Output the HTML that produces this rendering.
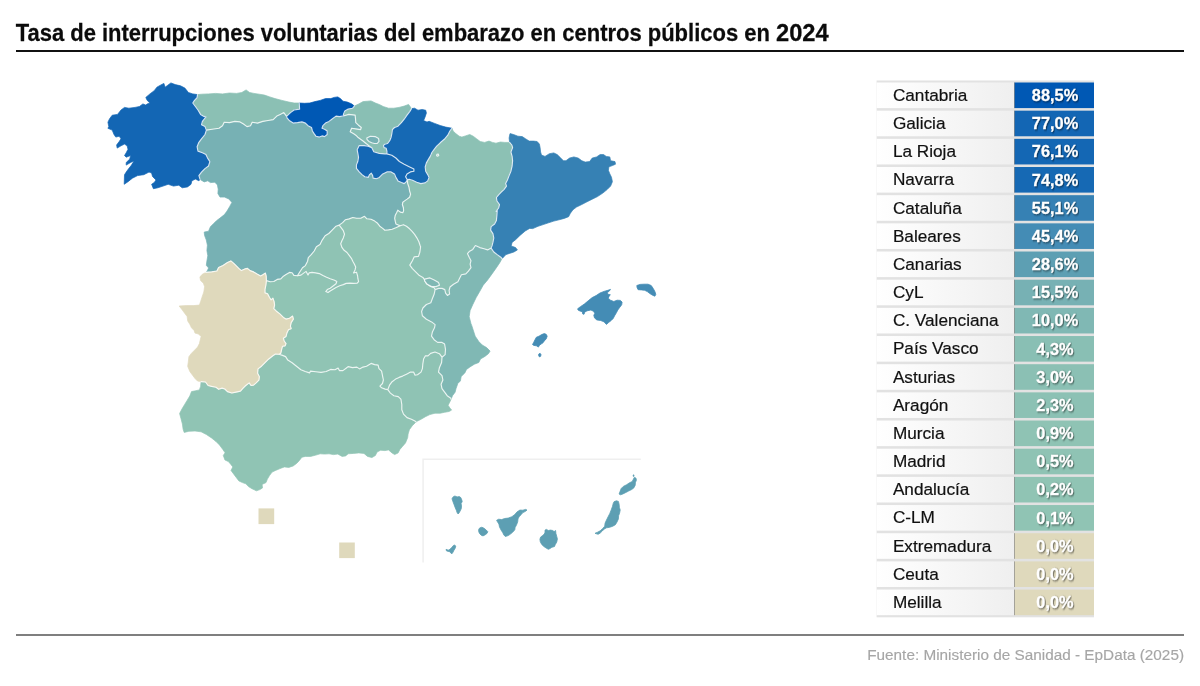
<!DOCTYPE html>
<html lang="es">
<head>
<meta charset="utf-8">
<title>Tasa de interrupciones voluntarias del embarazo en centros públicos en 2024</title>
<style>
html,body{margin:0;padding:0;background:#fff;}
body{width:1200px;height:686px;position:relative;overflow:hidden;font-family:"Liberation Sans",Arial,sans-serif;color:#111;}
#map{position:absolute;left:0;top:0;width:1200px;height:686px;}
.row .l{font-size:17.2px;fill:#111;stroke:#111;stroke-width:.2px;}
.row .v{font-size:17.3px;font-weight:bold;fill:#fff;stroke:#fff;stroke-width:.3px;text-anchor:middle;filter:drop-shadow(1px 1px .8px rgba(0,0,0,.5));}
</style>
</head>
<body>
<svg id="map" viewBox="0 0 1200 686" width="1200" height="686">
<rect id="toprule" x="16" y="50" width="1168" height="2" fill="#111"/>
<text id="title" transform="translate(15.7,40.7) scale(0.9048,1)" font-family="'Liberation Sans',Arial,sans-serif" font-size="24.3" font-weight="bold" fill="#0b0b0b" stroke="#0b0b0b" stroke-width="0.25">Tasa de interrupciones voluntarias del embarazo en centros públicos en <tspan textLength="58.2" lengthAdjust="spacingAndGlyphs">2024</tspan></text>
<rect id="botrule" x="16" y="634" width="1168" height="2" fill="#7f7f7f"/>
<text id="source" transform="translate(1184,659.8) scale(1.022,1)" text-anchor="end" font-family="'Liberation Sans',Arial,sans-serif" font-size="15" fill="#a6a6a6" stroke="#a6a6a6" stroke-width="0.15">Fuente: Ministerio de Sanidad - EpData (2025)</text>
<g id="regions" stroke-width="0.7" stroke-linejoin="round">
<path id="r-cyl" fill="#77b1b4" stroke="#77b1b4" d="M200.1,179.4 198.9,175.6 201.5,172.1 205.0,168.6 208.5,166.0 209.9,161.6 207.6,158.1 205.9,154.6 202.4,152.8 198.0,151.1 197.1,146.7 198.9,142.3 201.5,138.8 205.0,134.5 206.4,130.1 212.0,129.2 219.0,128.3 222.5,125.7 224.2,122.2 229.5,122.6 234.8,121.4 240.0,121.9 243.5,124.0 247.0,126.6 250.5,125.7 252.2,122.2 257.5,123.1 262.8,121.4 268.0,120.5 273.2,119.6 276.8,116.1 280.2,114.4 283.8,112.6 285.5,114.9 286.6,116.3 287.0,117.9 289.6,120.8 293.1,123.1 297.5,122.6 301.9,121.9 305.4,123.1 308.0,125.7 311.5,127.5 312.4,131.0 314.1,133.6 315.9,136.2 319.4,137.1 322.0,135.9 324.6,136.6 327.2,134.5 327.2,131.0 324.6,129.2 322.0,128.3 322.9,125.7 325.5,123.1 329.0,121.4 332.5,118.7 336.0,116.1 339.5,116.6 344.0,115.8 348.8,114.4 355.1,115.1 355.5,118.5 355.8,122.7 358.5,125.2 361.3,127.5 360.6,129.6 355.8,128.9 351.6,128.2 350.2,131.7 353.7,133.8 355.8,135.2 357.8,137.2 362.7,140.7 366.1,143.5 368.9,145.6 371.7,147.6 368.2,146.2 364.1,145.6 359.2,145.6 357.1,149.7 357.8,153.2 358.5,157.3 357.8,161.5 356.4,164.9 356.4,168.4 359.2,171.9 362.0,174.6 364.8,176.7 368.2,177.4 369.6,174.6 371.3,173.2 372.6,175.3 373.1,178.1 376.5,178.8 379.3,177.4 382.8,173.9 386.9,171.9 391.1,171.9 394.5,173.9 395.9,177.4 398.0,180.9 401.4,182.5 404.2,183.6 406.3,181.6 407.4,179.9 407.7,183.6 409.0,187.3 409.6,191.0 410.6,194.1 409.6,197.2 407.1,199.1 404.6,200.9 402.8,202.2 402.4,204.7 403.4,207.8 403.6,210.8 402.8,212.7 400.3,212.1 397.8,210.2 396.6,212.7 395.3,215.2 394.7,218.3 395.3,221.4 395.9,223.9 398.4,225.1 400.3,225.7 395.8,227.7 392.2,229.2 388.5,229.9 384.9,230.3 382.7,228.4 379.8,226.2 377.6,223.3 374.7,221.1 371.0,219.2 366.7,218.7 364.5,216.3 360.8,218.2 356.5,218.2 352.8,217.5 349.2,218.9 345.5,219.7 342.6,222.6 339.2,225.1 336.0,226.2 332.4,229.9 328.8,233.5 325.1,235.7 322.2,240.1 320.0,244.5 316.4,246.7 314.2,251.0 311.2,254.7 308.3,257.6 307.6,261.2 305.4,265.6 302.5,267.8 299.6,272.2 297.4,275.8 293.9,275.4 292.1,272.7 289.5,272.4 286.0,274.5 283.4,276.2 280.8,278.9 277.2,279.4 273.8,281.5 270.2,281.8 266.4,280.6 266.2,276.2 265.4,273.1 263.2,274.5 260.6,275.9 257.1,274.1 253.6,271.9 250.1,270.6 247.5,268.4 244.9,268.9 241.4,270.6 238.8,268.4 236.1,265.7 233.5,263.1 230.9,260.9 227.4,262.6 223.0,265.4 218.6,267.5 216.9,271.0 211.6,271.9 205.8,272.4 206.9,271.5 208.6,268.0 206.3,265.3 206.9,261.0 207.8,255.7 206.9,250.5 207.4,245.2 206.3,240.0 204.6,235.6 204.2,232.1 208.6,231.2 210.4,226.8 213.9,223.3 216.5,220.7 220.0,218.1 224.4,214.6 227.0,211.1 229.6,206.7 231.9,202.4 228.8,198.9 224.4,197.1 220.0,197.1 217.9,193.6 218.2,189.2 217.4,184.9 214.8,182.2 210.4,182.6 207.8,180.8 204.2,181.9Z"/>
<path id="r-clm" fill="#90c4b4" stroke="#90c4b4" d="M266.4,280.6 270.2,281.8 273.8,281.5 277.2,279.4 280.8,278.9 283.4,276.2 286.0,274.5 289.5,272.4 292.1,272.7 293.9,275.4 297.4,275.8 301.0,275.1 304.0,272.9 306.1,271.4 308.0,275.1 309.1,272.9 312.0,272.4 315.6,272.9 319.3,273.6 322.9,275.5 326.6,277.3 330.2,278.7 334.6,280.2 336.8,281.6 336.0,283.8 333.1,286.0 330.2,288.2 327.3,289.6 325.8,291.6 328.0,292.6 330.2,291.1 333.1,289.2 336.0,287.5 339.7,285.7 343.3,284.6 346.2,283.4 349.9,283.1 353.5,283.4 357.2,283.1 358.6,281.6 357.9,278.7 357.6,275.8 356.5,272.2 353.5,272.9 355.0,270.0 355.7,267.1 354.3,264.1 352.8,261.2 351.4,258.3 349.2,255.4 347.0,252.5 344.1,250.3 341.9,247.4 340.7,243.7 341.9,240.8 343.3,237.9 344.5,234.3 343.3,230.6 341.1,227.7 339.2,225.1 342.6,222.6 345.5,219.7 349.2,218.9 352.8,217.5 356.5,218.2 360.8,218.2 364.5,216.3 366.7,218.7 371.0,219.2 374.7,221.1 377.6,223.3 379.8,226.2 382.7,228.4 384.9,230.3 388.5,229.9 392.2,229.2 395.8,227.7 400.3,225.7 403.4,224.7 406.5,226.3 409.6,228.8 412.1,231.3 414.6,234.4 417.0,238.1 418.9,241.8 420.1,245.5 420.6,246.7 419.9,252.0 418.5,256.4 414.1,256.9 412.4,260.7 409.8,265.1 412.4,268.6 415.9,272.1 419.4,275.6 422.9,277.4 424.6,280.0 426.4,283.5 429.9,286.1 434.2,287.8 435.1,289.6 434.2,294.0 432.5,298.3 430.8,302.7 426.4,304.5 422.9,308.0 421.6,311.5 422.4,315.8 426.4,319.3 431.6,321.9 435.1,324.6 434.6,327.5 432.4,331.9 431.5,336.2 434.1,339.7 437.6,342.4 442.0,342.4 444.6,344.1 445.5,349.4 445.1,354.6 442.0,357.2 439.4,353.7 435.0,352.0 430.6,353.4 428.0,355.8 425.4,355.8 423.6,359.0 422.8,364.2 422.4,368.6 421.0,372.1 417.5,374.7 414.9,375.1 413.6,372.1 410.5,372.1 407.0,373.9 402.6,376.1 399.1,377.4 395.6,379.1 392.1,381.7 389.5,385.2 387.8,389.6 385.1,389.1 381.6,387.8 379.9,386.1 382.5,383.5 383.4,380.0 382.5,375.6 381.6,371.2 379.0,368.6 378.1,365.1 374.6,364.6 371.1,363.4 366.5,366.2 363.0,367.1 359.5,368.9 356.9,367.1 352.5,367.6 348.1,366.6 346.4,368.0 342.9,370.6 339.4,370.6 338.1,368.0 335.0,369.7 330.6,369.4 326.2,371.5 321.0,372.4 315.8,371.8 310.5,371.1 309.6,372.9 305.2,371.5 300.9,369.7 296.5,366.2 292.1,362.7 287.8,360.1 285.6,356.6 282.5,355.4 279.0,354.3 280.8,353.2 281.6,349.7 282.5,346.2 285.1,345.9 286.0,343.6 284.2,341.0 283.4,338.3 286.0,336.6 286.9,333.1 288.6,329.6 291.2,328.7 290.4,326.1 291.2,322.6 293.4,319.1 292.6,316.1 289.5,318.2 286.0,319.1 283.4,317.4 279.9,313.9 276.4,311.2 273.8,308.6 274.6,305.1 274.1,301.6 272.9,298.1 271.1,299.9 269.4,297.2 267.6,293.7 265.0,292.9 265.0,289.4 265.9,285.0Z"/>
<path id="r-andalucia" fill="#90c4b4" stroke="#90c4b4" d="M201.1,381.6 205.5,382.0 208.1,385.5 211.6,386.4 216.0,387.2 218.6,389.3 222.1,388.1 224.8,389.0 227.4,391.6 231.8,393.0 236.1,392.1 240.5,391.1 243.1,388.1 245.8,385.5 249.2,382.9 251.0,385.5 253.6,385.1 256.2,382.9 258.9,380.2 259.4,376.7 257.6,373.2 258.0,368.9 261.5,366.2 265.0,362.7 268.5,359.2 272.9,355.7 275.5,354.0 279.0,354.3 282.5,355.4 285.6,356.6 287.8,360.1 292.1,362.7 296.5,366.2 300.9,369.7 305.2,371.5 309.6,372.9 310.5,371.1 315.8,371.8 321.0,372.4 326.2,371.5 330.6,369.4 335.0,369.7 338.1,368.0 339.4,370.6 342.9,370.6 346.4,368.0 348.1,366.6 352.5,367.6 356.9,367.1 359.5,368.9 363.0,367.1 366.5,366.2 371.1,363.4 374.6,364.6 378.1,365.1 379.0,368.6 381.6,371.2 382.5,375.6 383.4,380.0 382.5,383.5 379.9,386.1 381.6,387.8 385.1,389.1 387.8,389.6 390.4,393.1 393.9,395.7 398.2,396.6 400.9,399.2 401.8,404.5 401.8,409.7 403.5,414.1 407.0,417.6 411.4,419.3 414.9,421.1 416.1,421.9 412.5,425.4 409.4,429.7 408.1,434.1 407.7,437.6 405.5,442.9 402.5,446.4 399.9,449.4 398.1,452.9 394.6,454.6 392.0,452.9 388.5,449.9 385.0,450.6 380.6,450.2 377.1,452.0 375.4,455.5 371.9,457.6 367.5,456.4 364.0,453.4 358.8,452.9 353.5,453.4 348.2,453.8 345.6,455.9 342.1,456.4 337.8,454.1 333.4,454.6 329.0,453.8 324.6,454.1 320.2,453.8 315.9,455.1 310.6,456.4 305.4,456.4 301.9,457.2 299.2,460.7 296.6,463.4 293.1,466.0 288.8,467.4 284.4,466.9 280.0,468.6 275.6,470.4 272.1,472.1 269.5,475.6 267.4,479.1 266.0,482.6 262.1,484.4 262.5,487.9 259.9,489.6 256.4,490.8 252.0,488.7 248.5,486.6 245.9,483.8 242.4,482.6 238.9,480.9 236.2,477.4 233.6,473.9 231.0,470.4 232.8,466.9 230.7,464.2 228.4,461.6 224.9,459.9 223.3,455.4 225.1,452.8 222.7,449.3 219.5,445.0 216.0,441.5 211.6,438.0 206.4,434.5 201.1,431.8 195.0,431.0 188.9,431.3 184.2,432.4 183.1,429.2 182.4,424.0 181.0,418.7 179.6,413.5 181.9,409.1 184.5,404.7 187.1,400.4 189.8,396.0 191.5,391.6 195.9,390.7 199.4,389.9 200.6,386.4Z"/>
<path id="r-aragon" fill="#8cc1b4" stroke="#8cc1b4" d="M452.0,128.2 453.1,131.0 455.8,133.6 459.2,136.2 461.9,137.1 465.4,135.9 469.8,134.5 473.2,136.2 476.8,138.9 480.2,141.5 484.6,142.4 489.0,141.1 492.5,142.4 496.0,143.2 500.4,142.0 504.8,142.4 509.6,142.4 511.8,145.0 512.6,147.6 510.9,152.0 512.1,156.4 512.6,160.7 512.1,166.0 510.9,171.2 509.1,175.6 507.4,180.0 505.6,183.5 506.5,186.1 503.9,189.6 501.2,192.2 498.6,194.8 496.4,197.5 496.9,201.0 499.5,204.5 498.6,208.0 496.0,211.5 497.2,210.3 496.9,215.2 496.4,220.5 494.6,224.0 491.1,226.6 490.6,230.1 492.9,233.6 493.8,238.0 492.9,242.4 492.0,245.9 491.1,248.1 487.6,249.9 484.1,248.8 479.8,247.6 475.4,245.5 472.8,249.4 469.2,251.6 467.5,253.7 469.2,257.2 471.0,260.7 470.1,264.2 471.0,267.7 468.4,271.2 465.8,273.9 461.4,274.7 459.6,278.2 457.9,281.7 453.5,284.3 450.0,287.0 449.1,290.5 449.6,294.0 447.4,295.4 445.6,293.1 444.8,289.6 442.1,288.4 438.6,288.4 435.1,289.6 434.2,287.8 429.9,286.1 426.4,283.5 424.6,280.0 422.9,277.4 419.4,275.6 415.9,272.1 412.4,268.6 409.8,265.1 412.4,260.7 414.1,256.9 418.5,256.4 419.9,252.0 420.6,246.7 420.1,245.5 418.9,241.8 417.0,238.1 414.6,234.4 412.1,231.3 409.6,228.8 406.5,226.3 403.4,224.7 400.3,225.7 398.4,225.1 395.9,223.9 395.3,221.4 394.7,218.3 395.3,215.2 396.6,212.7 397.8,210.2 400.3,212.1 402.8,212.7 403.6,210.8 403.4,207.8 402.4,204.7 402.8,202.2 404.6,200.9 407.1,199.1 409.6,197.2 410.6,194.1 409.6,191.0 409.0,187.3 407.7,183.6 407.4,179.9 409.1,179.2 412.5,180.2 416.7,182.2 420.8,183.6 425.0,182.9 427.7,180.9 429.1,177.4 427.7,174.6 425.7,171.2 425.2,167.0 426.4,162.9 428.4,159.4 430.5,155.9 431.9,152.5 434.0,149.7 436.7,146.2 440.2,142.8 444.3,139.3 447.8,135.2 449.9,131.0Z"/>
<path id="r-extremadura" fill="#dfd9bc" stroke="#dfd9bc" d="M205.8,272.4 211.6,271.9 216.9,271.0 218.6,267.5 223.0,265.4 227.4,262.6 230.9,260.9 233.5,263.1 236.1,265.7 238.8,268.4 241.4,270.6 244.9,268.9 247.5,268.4 250.1,270.6 253.6,271.9 257.1,274.1 260.6,275.9 263.2,274.5 265.4,273.1 266.2,276.2 266.4,280.6 265.9,285.0 265.0,289.4 265.0,292.9 267.6,293.7 269.4,297.2 271.1,299.9 272.9,298.1 274.1,301.6 274.6,305.1 273.8,308.6 276.4,311.2 279.9,313.9 283.4,317.4 286.0,319.1 289.5,318.2 292.6,316.1 293.4,319.1 291.2,322.6 290.4,326.1 291.2,328.7 288.6,329.6 286.9,333.1 286.0,336.6 283.4,338.3 284.2,341.0 286.0,343.6 285.1,345.9 282.5,346.2 281.6,349.7 280.8,353.2 279.0,354.3 275.5,354.0 272.9,355.7 268.5,359.2 265.0,362.7 261.5,366.2 258.0,368.9 257.6,373.2 259.4,376.7 258.9,380.2 256.2,382.9 253.6,385.1 251.0,385.5 249.2,382.9 245.8,385.5 243.1,388.1 240.5,391.1 236.1,392.1 231.8,393.0 227.4,391.6 224.8,389.0 222.1,388.1 218.6,389.3 216.0,387.2 211.6,386.4 208.1,385.5 205.5,382.0 201.1,381.6 197.6,381.1 195.0,378.5 192.4,375.0 189.8,371.5 188.0,367.1 187.7,366.3 188.3,361.9 188.9,356.7 191.5,353.2 195.0,349.7 197.6,347.1 199.4,343.6 200.2,340.1 201.1,336.6 198.5,334.0 195.0,333.1 194.1,330.5 191.5,327.8 189.8,324.3 187.7,320.9 187.1,316.5 184.5,313.0 181.9,309.5 179.2,306.0 186.2,305.6 193.2,305.6 199.4,305.1 200.6,301.6 202.0,297.2 203.8,292.0 204.6,286.7 203.4,283.2 200.6,280.6 199.9,277.1 202.0,274.5Z"/>
<path id="r-valencia" fill="#80b8b4" stroke="#80b8b4" d="M491.1,248.1 493.8,252.0 497.2,254.6 500.8,257.2 502.0,258.6 499.9,262.5 496.4,267.7 492.0,273.9 487.6,280.0 483.2,285.2 479.8,291.3 476.2,297.5 472.8,304.5 470.1,310.6 469.2,316.7 471.0,323.7 471.8,325.7 473.5,331.0 475.2,336.2 478.8,341.5 482.2,345.0 486.6,347.6 490.1,351.1 488.4,353.7 484.9,356.4 480.5,359.0 478.8,362.5 474.4,364.2 470.0,366.9 466.5,369.5 464.8,373.0 461.2,376.5 460.4,380.9 457.8,383.5 456.0,388.7 455.1,392.2 452.5,395.7 451.1,399.2 450.8,398.3 447.2,395.7 444.6,392.2 442.0,388.7 441.1,384.3 442.9,380.0 442.0,375.6 438.5,372.1 439.4,367.7 441.6,362.5 442.0,357.2 445.1,354.6 445.5,349.4 444.6,344.1 442.0,342.4 437.6,342.4 434.1,339.7 431.5,336.2 432.4,331.9 434.6,327.5 435.1,324.6 431.6,321.9 426.4,319.3 422.4,315.8 421.6,311.5 422.9,308.0 426.4,304.5 430.8,302.7 432.5,298.3 434.2,294.0 435.1,289.6 438.6,288.4 442.1,288.4 444.8,289.6 445.6,293.1 447.4,295.4 449.6,294.0 449.1,290.5 450.0,287.0 453.5,284.3 457.9,281.7 459.6,278.2 461.4,274.7 465.8,273.9 468.4,271.2 471.0,267.7 470.1,264.2 471.0,260.7 469.2,257.2 467.5,253.7 469.2,251.6 472.8,249.4 475.4,245.5 479.8,247.6 484.1,248.8 487.6,249.9Z"/>
<path id="r-murcia" fill="#8fc3b4" stroke="#8fc3b4" d="M442.0,357.2 441.6,362.5 439.4,367.7 438.5,372.1 442.0,375.6 442.9,380.0 441.1,384.3 442.0,388.7 444.6,392.2 447.2,395.7 450.8,398.3 451.1,399.2 449.9,401.8 448.1,405.3 449.9,408.0 451.6,410.1 449.0,411.5 444.6,412.3 440.2,413.2 435.0,413.2 429.8,414.6 425.4,416.7 421.0,419.3 417.5,421.1 416.1,421.9 414.9,421.1 411.4,419.3 407.0,417.6 403.5,414.1 401.8,409.7 401.8,404.5 400.9,399.2 398.2,396.6 393.9,395.7 390.4,393.1 387.8,389.6 389.5,385.2 392.1,381.7 395.6,379.1 399.1,377.4 402.6,376.1 407.0,373.9 410.5,372.1 413.6,372.1 414.9,375.1 417.5,374.7 421.0,372.1 422.4,368.6 422.8,364.2 423.6,359.0 425.4,355.8 428.0,355.8 430.6,353.4 435.0,352.0 439.4,353.7Z"/>
<path id="r-madrid" fill="#8fc3b4" stroke="#8fc3b4" d="M297.4,275.8 299.6,272.2 302.5,267.8 305.4,265.6 307.6,261.2 308.3,257.6 311.2,254.7 314.2,251.0 316.4,246.7 320.0,244.5 322.2,240.1 325.1,235.7 328.8,233.5 332.4,229.9 336.0,226.2 339.2,225.1 341.1,227.7 343.3,230.6 344.5,234.3 343.3,237.9 341.9,240.8 340.7,243.7 341.9,247.4 344.1,250.3 347.0,252.5 349.2,255.4 351.4,258.3 352.8,261.2 354.3,264.1 355.7,267.1 355.0,270.0 353.5,272.9 356.5,272.2 357.6,275.8 357.9,278.7 358.6,281.6 357.2,283.1 353.5,283.4 349.9,283.1 346.2,283.4 343.3,284.6 339.7,285.7 336.0,287.5 333.1,289.2 330.2,291.1 328.0,292.6 325.8,291.6 327.3,289.6 330.2,288.2 333.1,286.0 336.0,283.8 336.8,281.6 334.6,280.2 330.2,278.7 326.6,277.3 322.9,275.5 319.3,273.6 315.6,272.9 312.0,272.4 309.1,272.9 308.0,275.1 306.1,271.4 304.0,272.9 301.0,275.1Z"/>
<path id="r-asturias" fill="#8bc0b4" stroke="#8bc0b4" d="M197.5,94.6 201.5,94.2 208.5,93.9 215.5,93.4 222.5,93.9 229.5,93.0 236.5,93.4 241.8,92.5 246.1,89.9 249.6,92.5 254.0,93.4 259.2,94.2 264.5,95.1 269.8,96.9 275.0,98.6 282.0,100.4 289.0,102.1 294.2,103.0 299.2,103.0 299.6,109.1 294.0,110.0 290.5,112.6 286.6,116.3 285.5,114.9 283.8,112.6 280.2,114.4 276.8,116.1 273.2,119.6 268.0,120.5 262.8,121.4 257.5,123.1 252.2,122.2 250.5,125.7 247.0,126.6 243.5,124.0 240.0,121.9 234.8,121.4 229.5,122.6 224.2,122.2 222.5,125.7 219.0,128.3 212.0,129.2 206.4,130.1 205.0,126.6 201.5,124.8 202.4,121.4 205.9,117.0 203.2,116.1 200.6,114.4 198.0,110.0 195.4,106.5 192.8,103.0 194.5,100.4 197.1,97.7Z"/>
<path id="r-paisvasco" fill="#89bfb4" stroke="#89bfb4" d="M354.4,106.1 358.8,103.9 363.1,101.6 367.5,101.2 371.0,100.9 375.4,103.0 379.8,104.7 383.2,106.5 388.5,108.2 393.8,108.2 399.0,107.4 404.2,106.1 408.6,104.4 411.5,108.6 409.7,111.6 407.0,115.1 404.2,119.2 401.4,122.7 398.0,126.2 394.5,127.5 392.4,129.6 391.8,133.8 391.1,137.2 389.7,140.7 387.6,143.5 384.8,144.2 383.4,145.6 384.1,147.6 386.2,148.3 386.9,151.1 386.9,153.9 384.8,153.9 379.3,153.4 373.8,151.8 371.7,147.6 368.9,145.6 366.1,143.5 362.7,140.7 357.8,137.2 355.8,135.2 353.7,133.8 350.2,131.7 351.6,128.2 355.8,128.9 360.6,129.6 361.3,127.5 358.5,125.2 355.8,122.7 355.5,118.5 355.1,115.1 348.8,114.4 344.0,115.8 343.4,114.4 344.8,110.9 348.2,109.1 352.6,108.2Z"/>
<path id="r-galicia" fill="#1366b4" stroke="#1366b4" d="M197.5,94.6 192.8,93.9 188.4,92.5 184.9,88.1 180.5,85.8 175.2,84.6 170.9,82.9 167.4,85.5 165.1,87.2 163.9,83.4 160.4,85.2 156.9,87.2 154.2,90.7 149.9,93.9 145.8,97.4 147.2,100.4 149.9,103.0 147.2,103.9 145.8,105.1 142.9,103.9 139.4,106.5 135.0,107.4 128.9,108.2 124.5,107.4 121.0,110.0 117.5,114.4 112.2,115.2 109.6,118.7 107.9,122.2 108.8,126.6 107.9,128.3 112.2,130.1 114.0,134.5 115.8,137.1 119.2,136.2 121.0,138.8 119.2,141.5 116.6,145.0 117.2,148.1 121.0,145.8 124.5,144.1 127.1,145.8 128.0,149.3 126.2,152.8 124.5,155.5 126.2,157.2 130.6,155.5 129.8,159.0 126.2,162.5 126.2,165.1 130.6,162.5 134.1,160.7 131.5,165.1 128.0,169.5 126.2,172.1 124.5,174.7 124.2,184.3 128.0,181.7 132.4,178.2 137.6,175.6 143.8,174.7 149.0,172.1 151.6,173.0 152.5,176.5 156.0,180.0 154.2,182.6 151.6,184.3 153.4,188.7 157.8,187.8 163.0,186.1 168.2,184.3 173.5,186.1 178.8,185.2 182.2,187.8 187.5,186.9 191.0,184.3 191.9,180.8 195.4,179.1 198.9,180.8 200.1,179.4 198.9,175.6 201.5,172.1 205.0,168.6 208.5,166.0 209.9,161.6 207.6,158.1 205.9,154.6 202.4,152.8 198.0,151.1 197.1,146.7 198.9,142.3 201.5,138.8 205.0,134.5 206.4,130.1 205.0,126.6 201.5,124.8 202.4,121.4 205.9,117.0 203.2,116.1 200.6,114.4 198.0,110.0 195.4,106.5 192.8,103.0 194.5,100.4 197.1,97.7Z"/>
<path id="r-cantabria" fill="#0058b4" stroke="#0058b4" d="M299.2,103.0 304.5,103.3 309.8,103.0 315.0,101.6 320.2,100.4 325.5,98.6 330.8,98.6 334.2,97.4 337.8,96.9 340.4,98.6 343.0,101.2 347.4,102.1 351.8,103.9 354.4,106.1 352.6,108.2 348.2,109.1 344.8,110.9 343.4,114.4 344.0,115.8 339.5,116.6 336.0,116.1 332.5,118.7 329.0,121.4 325.5,123.1 322.9,125.7 322.0,128.3 324.6,129.2 327.2,131.0 327.2,134.5 324.6,136.6 322.0,135.9 319.4,137.1 315.9,136.2 314.1,133.6 312.4,131.0 311.5,127.5 308.0,125.7 305.4,123.1 301.9,121.9 297.5,122.6 293.1,123.1 289.6,120.8 287.0,117.9 286.6,116.3 290.5,112.6 294.0,110.0 299.6,109.1Z"/>
<path id="r-navarra" fill="#1669b4" stroke="#1669b4" d="M411.5,108.6 414.6,108.2 418.0,110.2 422.2,109.5 425.7,110.2 426.4,113.0 425.0,117.2 423.6,120.6 427.0,122.0 429.1,121.3 434.6,123.4 440.2,125.5 445.7,127.1 452.0,128.2 449.9,131.0 447.8,135.2 444.3,139.3 440.2,142.8 436.7,146.2 434.0,149.7 431.9,152.5 430.5,155.9 428.4,159.4 426.4,162.9 425.2,167.0 425.7,171.2 427.7,174.6 429.1,177.4 427.7,180.9 425.0,182.9 420.8,183.6 416.7,182.2 412.5,180.2 409.1,179.2 407.4,179.9 405.6,176.7 407.0,173.9 410.4,171.9 413.9,171.2 413.9,169.1 409.7,167.0 404.2,164.2 399.4,161.5 395.9,158.0 391.8,155.2 386.9,153.9 386.9,151.1 386.2,148.3 384.1,147.6 383.4,145.6 384.8,144.2 387.6,143.5 389.7,140.7 391.1,137.2 391.8,133.8 392.4,129.6 394.5,127.5 398.0,126.2 401.4,122.7 404.2,119.2 407.0,115.1 409.7,111.6Z"/>
<path id="r-larioja" fill="#1467b4" stroke="#1467b4" d="M371.7,147.6 373.8,151.8 379.3,153.4 384.8,153.9 386.9,153.9 391.8,155.2 395.9,158.0 399.4,161.5 404.2,164.2 409.7,167.0 413.9,169.1 413.9,171.2 410.4,171.9 407.0,173.9 405.6,176.7 407.4,179.9 406.3,181.6 404.2,183.6 401.4,182.5 398.0,180.9 395.9,177.4 394.5,173.9 391.1,171.9 386.9,171.9 382.8,173.9 379.3,177.4 376.5,178.8 373.1,178.1 372.6,175.3 371.3,173.2 369.6,174.6 368.2,177.4 364.8,176.7 362.0,174.6 359.2,171.9 356.4,168.4 356.4,164.9 357.8,161.5 358.5,157.3 357.8,153.2 357.1,149.7 359.2,145.6 364.1,145.6 368.2,146.2Z"/>
<path id="r-cataluna" fill="#3681b4" stroke="#3681b4" d="M509.6,142.4 509.1,138.0 510.0,133.6 513.5,134.5 517.9,136.2 522.2,136.6 525.8,138.9 529.2,141.1 533.6,141.1 537.1,141.5 539.4,144.1 540.1,147.6 540.6,152.0 541.5,155.1 545.0,156.4 549.4,153.7 553.8,152.9 557.2,154.6 560.8,158.1 563.4,160.7 566.0,160.7 569.5,158.1 573.9,156.9 578.2,158.1 581.8,160.7 585.2,162.1 589.6,161.6 592.2,158.1 596.6,156.9 600.1,154.6 603.6,154.6 606.2,156.4 609.8,156.9 610.6,160.7 615.0,161.6 615.5,164.2 612.4,165.6 608.9,166.8 608.4,170.3 609.8,173.8 611.5,177.3 612.4,181.7 610.6,186.1 607.1,189.6 602.8,193.1 597.5,196.6 592.2,199.2 587.0,201.8 581.8,204.5 576.5,207.1 573.0,209.7 570.4,213.2 568.6,216.7 564.2,218.4 559.0,219.8 553.8,221.1 548.5,222.8 543.2,224.6 538.0,226.3 532.8,228.6 529.6,228.4 525.2,231.0 520.0,235.4 515.6,239.7 512.1,242.4 511.2,245.9 515.6,247.6 517.4,249.9 513.9,252.0 509.5,253.4 506.0,254.6 503.4,257.2 502.0,258.6 500.8,257.2 497.2,254.6 493.8,252.0 491.1,248.1 492.0,245.9 492.9,242.4 493.8,238.0 492.9,233.6 490.6,230.1 491.1,226.6 494.6,224.0 496.4,220.5 496.9,215.2 497.2,210.3 496.0,211.5 498.6,208.0 499.5,204.5 496.9,201.0 496.4,197.5 498.6,194.8 501.2,192.2 503.9,189.6 506.5,186.1 505.6,183.5 507.4,180.0 509.1,175.6 510.9,171.2 512.1,166.0 512.6,160.7 512.1,156.4 510.9,152.0 512.6,147.6 511.8,145.0Z"/>
</g>
<g id="borders" fill="none" stroke="#ffffff" stroke-opacity="0.82" stroke-width="1.15" stroke-linejoin="round" stroke-linecap="round">
<path d="M200.1,179.4 198.9,175.6 201.5,172.1 205.0,168.6 208.5,166.0 209.9,161.6 207.6,158.1 205.9,154.6 202.4,152.8 198.0,151.1 197.1,146.7 198.9,142.3 201.5,138.8 205.0,134.5 206.4,130.1 M206.4,130.1 205.0,126.6 201.5,124.8 202.4,121.4 205.9,117.0 203.2,116.1 200.6,114.4 198.0,110.0 195.4,106.5 192.8,103.0 194.5,100.4 197.1,97.7 197.5,94.6 M299.2,103.0 299.6,109.1 294.0,110.0 290.5,112.6 286.6,116.3 M206.4,130.1 212.0,129.2 219.0,128.3 222.5,125.7 224.2,122.2 229.5,122.6 234.8,121.4 240.0,121.9 243.5,124.0 247.0,126.6 250.5,125.7 252.2,122.2 257.5,123.1 262.8,121.4 268.0,120.5 273.2,119.6 276.8,116.1 280.2,114.4 283.8,112.6 285.5,114.9 286.6,116.3 M354.4,106.1 352.6,108.2 348.2,109.1 344.8,110.9 343.4,114.4 344.0,115.8 M344.0,115.8 339.5,116.6 336.0,116.1 332.5,118.7 329.0,121.4 325.5,123.1 322.9,125.7 322.0,128.3 324.6,129.2 327.2,131.0 327.2,134.5 324.6,136.6 322.0,135.9 319.4,137.1 315.9,136.2 314.1,133.6 312.4,131.0 311.5,127.5 308.0,125.7 305.4,123.1 301.9,121.9 297.5,122.6 293.1,123.1 289.6,120.8 287.0,117.9 286.6,116.3 M411.5,108.6 409.7,111.6 407.0,115.1 404.2,119.2 401.4,122.7 398.0,126.2 394.5,127.5 392.4,129.6 391.8,133.8 391.1,137.2 389.7,140.7 387.6,143.5 384.8,144.2 383.4,145.6 384.1,147.6 386.2,148.3 386.9,151.1 386.9,153.9 M344.0,115.8 348.8,114.4 355.1,115.1 355.5,118.5 355.8,122.7 358.5,125.2 361.3,127.5 360.6,129.6 355.8,128.9 351.6,128.2 350.2,131.7 353.7,133.8 355.8,135.2 357.8,137.2 362.7,140.7 366.1,143.5 368.9,145.6 371.7,147.6 M371.7,147.6 373.8,151.8 379.3,153.4 384.8,153.9 386.9,153.9 M452.0,128.2 449.9,131.0 447.8,135.2 444.3,139.3 440.2,142.8 436.7,146.2 434.0,149.7 431.9,152.5 430.5,155.9 428.4,159.4 426.4,162.9 425.2,167.0 425.7,171.2 427.7,174.6 429.1,177.4 427.7,180.9 425.0,182.9 420.8,183.6 416.7,182.2 412.5,180.2 409.1,179.2 407.4,179.9 M386.9,153.9 391.8,155.2 395.9,158.0 399.4,161.5 404.2,164.2 409.7,167.0 413.9,169.1 413.9,171.2 410.4,171.9 407.0,173.9 405.6,176.7 407.4,179.9 M371.7,147.6 368.2,146.2 364.1,145.6 359.2,145.6 357.1,149.7 357.8,153.2 358.5,157.3 357.8,161.5 356.4,164.9 356.4,168.4 359.2,171.9 362.0,174.6 364.8,176.7 368.2,177.4 369.6,174.6 371.3,173.2 372.6,175.3 373.1,178.1 376.5,178.8 379.3,177.4 382.8,173.9 386.9,171.9 391.1,171.9 394.5,173.9 395.9,177.4 398.0,180.9 401.4,182.5 404.2,183.6 406.3,181.6 407.4,179.9 M509.6,142.4 511.8,145.0 512.6,147.6 510.9,152.0 512.1,156.4 512.6,160.7 512.1,166.0 510.9,171.2 509.1,175.6 507.4,180.0 505.6,183.5 506.5,186.1 503.9,189.6 501.2,192.2 498.6,194.8 496.4,197.5 496.9,201.0 499.5,204.5 498.6,208.0 496.0,211.5 497.2,210.3 496.9,215.2 496.4,220.5 494.6,224.0 491.1,226.6 490.6,230.1 492.9,233.6 493.8,238.0 492.9,242.4 492.0,245.9 491.1,248.1 M491.1,248.1 493.8,252.0 497.2,254.6 500.8,257.2 502.0,258.6 M491.1,248.1 487.6,249.9 484.1,248.8 479.8,247.6 475.4,245.5 472.8,249.4 469.2,251.6 467.5,253.7 469.2,257.2 471.0,260.7 470.1,264.2 471.0,267.7 468.4,271.2 465.8,273.9 461.4,274.7 459.6,278.2 457.9,281.7 453.5,284.3 450.0,287.0 449.1,290.5 449.6,294.0 447.4,295.4 445.6,293.1 444.8,289.6 442.1,288.4 438.6,288.4 435.1,289.6 M407.4,179.9 407.7,183.6 409.0,187.3 409.6,191.0 410.6,194.1 409.6,197.2 407.1,199.1 404.6,200.9 402.8,202.2 402.4,204.7 403.4,207.8 403.6,210.8 402.8,212.7 400.3,212.1 397.8,210.2 396.6,212.7 395.3,215.2 394.7,218.3 395.3,221.4 395.9,223.9 398.4,225.1 400.3,225.7 M400.3,225.7 403.4,224.7 406.5,226.3 409.6,228.8 412.1,231.3 414.6,234.4 417.0,238.1 418.9,241.8 420.1,245.5 420.6,246.7 419.9,252.0 418.5,256.4 414.1,256.9 412.4,260.7 409.8,265.1 412.4,268.6 415.9,272.1 419.4,275.6 422.9,277.4 424.6,280.0 426.4,283.5 429.9,286.1 434.2,287.8 435.1,289.6 M205.8,272.4 211.6,271.9 216.9,271.0 218.6,267.5 223.0,265.4 227.4,262.6 230.9,260.9 233.5,263.1 236.1,265.7 238.8,268.4 241.4,270.6 244.9,268.9 247.5,268.4 250.1,270.6 253.6,271.9 257.1,274.1 260.6,275.9 263.2,274.5 265.4,273.1 266.2,276.2 266.4,280.6 M266.4,280.6 270.2,281.8 273.8,281.5 277.2,279.4 280.8,278.9 283.4,276.2 286.0,274.5 289.5,272.4 292.1,272.7 293.9,275.4 297.4,275.8 M297.4,275.8 299.6,272.2 302.5,267.8 305.4,265.6 307.6,261.2 308.3,257.6 311.2,254.7 314.2,251.0 316.4,246.7 320.0,244.5 322.2,240.1 325.1,235.7 328.8,233.5 332.4,229.9 336.0,226.2 339.2,225.1 M339.2,225.1 342.6,222.6 345.5,219.7 349.2,218.9 352.8,217.5 356.5,218.2 360.8,218.2 364.5,216.3 366.7,218.7 371.0,219.2 374.7,221.1 377.6,223.3 379.8,226.2 382.7,228.4 384.9,230.3 388.5,229.9 392.2,229.2 395.8,227.7 400.3,225.7 M339.2,225.1 341.1,227.7 343.3,230.6 344.5,234.3 343.3,237.9 341.9,240.8 340.7,243.7 341.9,247.4 344.1,250.3 347.0,252.5 349.2,255.4 351.4,258.3 352.8,261.2 354.3,264.1 355.7,267.1 355.0,270.0 353.5,272.9 356.5,272.2 357.6,275.8 357.9,278.7 358.6,281.6 357.2,283.1 353.5,283.4 349.9,283.1 346.2,283.4 343.3,284.6 339.7,285.7 336.0,287.5 333.1,289.2 330.2,291.1 328.0,292.6 325.8,291.6 327.3,289.6 330.2,288.2 333.1,286.0 336.0,283.8 336.8,281.6 334.6,280.2 330.2,278.7 326.6,277.3 322.9,275.5 319.3,273.6 315.6,272.9 312.0,272.4 309.1,272.9 308.0,275.1 306.1,271.4 304.0,272.9 301.0,275.1 297.4,275.8 M266.4,280.6 265.9,285.0 265.0,289.4 265.0,292.9 267.6,293.7 269.4,297.2 271.1,299.9 272.9,298.1 274.1,301.6 274.6,305.1 273.8,308.6 276.4,311.2 279.9,313.9 283.4,317.4 286.0,319.1 289.5,318.2 292.6,316.1 293.4,319.1 291.2,322.6 290.4,326.1 291.2,328.7 288.6,329.6 286.9,333.1 286.0,336.6 283.4,338.3 284.2,341.0 286.0,343.6 285.1,345.9 282.5,346.2 281.6,349.7 280.8,353.2 279.0,354.3 M201.1,381.6 205.5,382.0 208.1,385.5 211.6,386.4 216.0,387.2 218.6,389.3 222.1,388.1 224.8,389.0 227.4,391.6 231.8,393.0 236.1,392.1 240.5,391.1 243.1,388.1 245.8,385.5 249.2,382.9 251.0,385.5 253.6,385.1 256.2,382.9 258.9,380.2 259.4,376.7 257.6,373.2 258.0,368.9 261.5,366.2 265.0,362.7 268.5,359.2 272.9,355.7 275.5,354.0 279.0,354.3 M279.0,354.3 282.5,355.4 285.6,356.6 287.8,360.1 292.1,362.7 296.5,366.2 300.9,369.7 305.2,371.5 309.6,372.9 310.5,371.1 315.8,371.8 321.0,372.4 326.2,371.5 330.6,369.4 335.0,369.7 338.1,368.0 339.4,370.6 342.9,370.6 346.4,368.0 348.1,366.6 352.5,367.6 356.9,367.1 359.5,368.9 363.0,367.1 366.5,366.2 371.1,363.4 374.6,364.6 378.1,365.1 379.0,368.6 381.6,371.2 382.5,375.6 383.4,380.0 382.5,383.5 379.9,386.1 381.6,387.8 385.1,389.1 387.8,389.6 M442.0,357.2 439.4,353.7 435.0,352.0 430.6,353.4 428.0,355.8 425.4,355.8 423.6,359.0 422.8,364.2 422.4,368.6 421.0,372.1 417.5,374.7 414.9,375.1 413.6,372.1 410.5,372.1 407.0,373.9 402.6,376.1 399.1,377.4 395.6,379.1 392.1,381.7 389.5,385.2 387.8,389.6 M435.1,289.6 434.2,294.0 432.5,298.3 430.8,302.7 426.4,304.5 422.9,308.0 421.6,311.5 422.4,315.8 426.4,319.3 431.6,321.9 435.1,324.6 434.6,327.5 432.4,331.9 431.5,336.2 434.1,339.7 437.6,342.4 442.0,342.4 444.6,344.1 445.5,349.4 445.1,354.6 442.0,357.2 M442.0,357.2 441.6,362.5 439.4,367.7 438.5,372.1 442.0,375.6 442.9,380.0 441.1,384.3 442.0,388.7 444.6,392.2 447.2,395.7 450.8,398.3 451.1,399.2 M387.8,389.6 390.4,393.1 393.9,395.7 398.2,396.6 400.9,399.2 401.8,404.5 401.8,409.7 403.5,414.1 407.0,417.6 411.4,419.3 414.9,421.1 416.1,421.9"/>
<path id="e-trevino" fill="#77b1b4" d="M366.8,137.9 370.3,136.3 375.1,136.6 378.6,138.6 379.0,141.4 377.2,143.5 374.4,143.5 371.7,142.8 368.9,141.4 367.1,139.6Z"/>
<path id="e-ademuz" fill="#80b8b4" d="M424.6,279.1 429.9,277.9 434.2,280.0 438.6,282.6 439.5,285.2 436.0,286.6 431.6,286.6 427.2,284.3 424.6,280.9Z"/>
<path id="e-petilla" fill="#8cc1b4" d="M436.9,154.3 438.2,154.0 438.8,155.4 437.7,156.2 436.6,155.7Z"/>
</g>
<path id="r-baleares" fill="#448cb5" stroke="#448cb5" stroke-width="0.8" stroke-linejoin="round" d="M577.7,308.7 580.4,306.7 584.3,304.1 588.2,300.8 592.2,297.6 596.1,295.6 600.0,293.0 604.0,291.4 607.9,290.3 610.5,289.4 609.2,291.2 607.3,292.6 607.9,294.3 610.3,294.7 609.2,296.2 608.2,298.2 610.5,300.2 613.8,301.5 617.1,300.2 620.4,300.4 622.1,302.1 621.7,304.8 619.7,307.4 617.8,310.0 616.5,312.6 614.5,315.9 613.2,318.5 611.2,320.5 608.6,322.5 606.4,324.4 604.0,321.8 600.7,320.5 596.8,319.9 594.5,317.9 593.8,315.3 594.8,313.3 593.5,311.3 590.9,310.0 587.6,310.7 585.0,311.7 584.0,314.3 582.7,313.9 582.3,311.7 579.7,310.9 578.0,310.0Z M636.8,285.5 640.1,284.4 644.0,284.2 648.0,284.2 651.2,285.5 653.2,288.4 654.9,291.6 655.8,294.3 654.9,296.2 652.5,295.2 649.9,293.6 647.3,291.6 644.7,290.3 641.4,289.9 638.1,289.7 637.1,287.7Z M532.5,344.5 533.8,342.2 535.1,339.5 536.4,337.2 539.0,336.2 541.6,334.6 544.3,333.6 546.2,334.3 547.2,336.2 546.2,338.9 544.3,340.9 543.0,342.8 541.0,344.1 539.4,345.4 538.4,347.1 536.4,345.8 533.8,345.4Z M538.8,354.0 540.1,353.3 541.0,354.6 540.7,356.3 539.4,356.9 538.6,355.5Z"/>
<path id="r-canarias" fill="#5d9fb3" stroke="#5d9fb3" stroke-width="0.8" stroke-linejoin="round" d="M452.0,498.8 453.1,496.9 454.9,496.0 457.1,496.9 459.3,496.6 460.8,497.6 461.9,500.2 462.2,501.7 461.1,503.5 461.5,506.0 461.3,508.6 460.1,511.1 459.0,513.0 458.1,514.0 457.1,512.6 456.4,510.4 455.3,507.9 454.2,504.9 453.1,502.0Z M446.1,549.3 448.2,550.2 449.9,549.3 451.7,547.6 453.4,545.5 454.6,545.1 455.8,546.1 455.2,548.2 454.0,550.2 452.8,552.5 452.0,553.7 450.8,553.1 449.9,551.7 448.2,551.4 446.4,550.8Z M478.6,529.7 479.7,527.9 481.9,527.2 484.1,528.3 486.3,530.1 487.8,531.7 487.0,533.4 485.2,534.8 483.0,535.9 481.2,535.2 479.7,533.7 478.8,531.9Z M496.6,520.3 498.7,519.2 501.7,519.6 504.6,518.5 508.2,518.1 511.9,516.7 514.8,514.5 517.0,511.9 519.9,510.1 522.8,510.2 525.7,509.4 527.0,510.1 525.0,511.6 522.8,512.6 521.3,514.5 519.1,516.7 518.0,518.9 517.7,521.8 516.6,524.7 515.1,527.6 514.8,529.8 512.6,532.3 510.4,534.1 508.2,535.6 505.3,536.5 503.8,534.9 502.8,532.7 500.9,529.8 499.5,526.9 498.9,524.0 497.6,522.1Z M545.0,530.1 546.5,529.4 548.3,530.5 550.5,530.1 552.7,530.5 554.1,531.6 555.6,530.5 555.9,533.4 556.7,536.3 557.4,538.9 556.7,542.2 555.2,544.7 554.5,546.5 551.9,547.3 549.7,548.7 548.3,549.3 546.1,548.0 543.9,546.5 541.7,544.4 540.3,541.8 539.9,539.3 540.6,537.1 542.5,535.6 544.3,534.1 545.0,532.3Z M614.2,501.6 616.5,500.8 618.4,501.4 619.1,504.2 619.4,507.4 620.2,510.0 619.6,513.1 618.6,515.8 618.4,518.9 617.0,522.0 615.4,524.7 612.8,526.2 609.7,527.3 606.5,527.8 604.4,528.9 602.3,531.0 600.2,533.1 598.1,534.3 595.0,533.3 597.6,532.2 600.2,530.8 602.8,528.4 604.7,526.2 605.1,523.1 606.5,520.0 608.1,516.8 609.7,513.7 611.2,510.0 612.5,506.3 613.3,503.2Z M619.1,494.0 620.2,491.1 621.2,488.5 623.3,486.4 626.5,484.8 629.6,482.7 632.2,481.6 633.5,479.0 634.3,477.4 635.9,478.0 636.4,480.1 635.4,482.7 635.2,485.3 633.8,487.9 631.7,489.5 628.5,491.1 625.4,492.7 622.3,494.2 620.2,494.8Z M633.1,475.1 633.8,474.8 634.1,476.2 633.3,476.4Z"/>
<rect id="r-ceuta" x="258.5" y="508.4" width="15.7" height="15.7" fill="#dfd9bc"/>
<rect id="r-melilla" x="339.2" y="542.5" width="15.6" height="15.6" fill="#dfd9bc"/>
<path id="canarias-frame" d="M423.1,562.6 V459.15 H640.8" fill="none" stroke="#efefef" stroke-width="1.5"/>
<defs><linearGradient id="lg" x1="0" y1="0" x2="1" y2="0"><stop offset="0" stop-color="#ffffff"/><stop offset="0.5" stop-color="#f7f7f7"/><stop offset="1" stop-color="#efefef"/></linearGradient></defs>
<rect x="876.6" y="80.50" width="217.4" height="536.83" fill="#e2e2e2"/>
<g id="tbl-rows" font-family="'Liberation Sans',Arial,sans-serif">
<g class="row"><rect x="876.6" y="82.50" width="137.9" height="25.6" fill="url(#lg)"/><rect x="1014.5" y="82.50" width="79.5" height="25.6" fill="#0058b4"/><rect x="1014.0" y="82.50" width="1" height="25.6" fill="#444" fill-opacity="0.4"/><text class="l" transform="translate(892.9,100.90) scale(1.0,1)">Cantabria</text><text class="v" transform="translate(1055.0,101.00) scale(0.948,1)">88,5%</text></g>
<g class="row"><rect x="876.6" y="110.67" width="137.9" height="25.6" fill="url(#lg)"/><rect x="1014.5" y="110.67" width="79.5" height="25.6" fill="#1366b4"/><rect x="1014.0" y="110.67" width="1" height="25.6" fill="#444" fill-opacity="0.4"/><text class="l" transform="translate(892.9,129.07) scale(1.0,1)">Galicia</text><text class="v" transform="translate(1055.0,129.17) scale(0.948,1)">77,0%</text></g>
<g class="row"><rect x="876.6" y="138.84" width="137.9" height="25.6" fill="url(#lg)"/><rect x="1014.5" y="138.84" width="79.5" height="25.6" fill="#1467b4"/><rect x="1014.0" y="138.84" width="1" height="25.6" fill="#444" fill-opacity="0.4"/><text class="l" transform="translate(892.9,157.24) scale(1.0,1)">La Rioja</text><text class="v" transform="translate(1055.0,157.34) scale(0.948,1)">76,1%</text></g>
<g class="row"><rect x="876.6" y="167.01" width="137.9" height="25.6" fill="url(#lg)"/><rect x="1014.5" y="167.01" width="79.5" height="25.6" fill="#1669b4"/><rect x="1014.0" y="167.01" width="1" height="25.6" fill="#444" fill-opacity="0.4"/><text class="l" transform="translate(892.9,185.41) scale(1.0,1)">Navarra</text><text class="v" transform="translate(1055.0,185.51) scale(0.948,1)">74,8%</text></g>
<g class="row"><rect x="876.6" y="195.18" width="137.9" height="25.6" fill="url(#lg)"/><rect x="1014.5" y="195.18" width="79.5" height="25.6" fill="#3681b4"/><rect x="1014.0" y="195.18" width="1" height="25.6" fill="#444" fill-opacity="0.4"/><text class="l" transform="translate(892.9,213.58) scale(1.0,1)">Cataluña</text><text class="v" transform="translate(1055.0,213.68) scale(0.948,1)">55,1%</text></g>
<g class="row"><rect x="876.6" y="223.35" width="137.9" height="25.6" fill="url(#lg)"/><rect x="1014.5" y="223.35" width="79.5" height="25.6" fill="#448cb5"/><rect x="1014.0" y="223.35" width="1" height="25.6" fill="#444" fill-opacity="0.4"/><text class="l" transform="translate(892.9,241.75) scale(1.0,1)">Baleares</text><text class="v" transform="translate(1055.0,241.85) scale(0.948,1)">45,4%</text></g>
<g class="row"><rect x="876.6" y="251.52" width="137.9" height="25.6" fill="url(#lg)"/><rect x="1014.5" y="251.52" width="79.5" height="25.6" fill="#5d9fb3"/><rect x="1014.0" y="251.52" width="1" height="25.6" fill="#444" fill-opacity="0.4"/><text class="l" transform="translate(892.9,269.92) scale(1.0,1)">Canarias</text><text class="v" transform="translate(1055.0,270.02) scale(0.948,1)">28,6%</text></g>
<g class="row"><rect x="876.6" y="279.69" width="137.9" height="25.6" fill="url(#lg)"/><rect x="1014.5" y="279.69" width="79.5" height="25.6" fill="#77b1b4"/><rect x="1014.0" y="279.69" width="1" height="25.6" fill="#444" fill-opacity="0.4"/><text class="l" transform="translate(892.9,298.09) scale(1.0,1)">CyL</text><text class="v" transform="translate(1055.0,298.19) scale(0.948,1)">15,5%</text></g>
<g class="row"><rect x="876.6" y="307.86" width="137.9" height="25.6" fill="url(#lg)"/><rect x="1014.5" y="307.86" width="79.5" height="25.6" fill="#80b8b4"/><rect x="1014.0" y="307.86" width="1" height="25.6" fill="#444" fill-opacity="0.4"/><text class="l" transform="translate(892.9,326.26) scale(1.0,1)">C. Valenciana</text><text class="v" transform="translate(1055.0,326.36) scale(0.948,1)">10,0%</text></g>
<g class="row"><rect x="876.6" y="336.03" width="137.9" height="25.6" fill="url(#lg)"/><rect x="1014.5" y="336.03" width="79.5" height="25.6" fill="#89bfb4"/><rect x="1014.0" y="336.03" width="1" height="25.6" fill="#444" fill-opacity="0.4"/><text class="l" transform="translate(892.9,354.43) scale(1.0,1)">País Vasco</text><text class="v" transform="translate(1055.0,354.53) scale(0.948,1)">4,3%</text></g>
<g class="row"><rect x="876.6" y="364.20" width="137.9" height="25.6" fill="url(#lg)"/><rect x="1014.5" y="364.20" width="79.5" height="25.6" fill="#8bc0b4"/><rect x="1014.0" y="364.20" width="1" height="25.6" fill="#444" fill-opacity="0.4"/><text class="l" transform="translate(892.9,382.60) scale(1.0,1)">Asturias</text><text class="v" transform="translate(1055.0,382.70) scale(0.948,1)">3,0%</text></g>
<g class="row"><rect x="876.6" y="392.37" width="137.9" height="25.6" fill="url(#lg)"/><rect x="1014.5" y="392.37" width="79.5" height="25.6" fill="#8cc1b4"/><rect x="1014.0" y="392.37" width="1" height="25.6" fill="#444" fill-opacity="0.4"/><text class="l" transform="translate(892.9,410.77) scale(1.0,1)">Aragón</text><text class="v" transform="translate(1055.0,410.87) scale(0.948,1)">2,3%</text></g>
<g class="row"><rect x="876.6" y="420.54" width="137.9" height="25.6" fill="url(#lg)"/><rect x="1014.5" y="420.54" width="79.5" height="25.6" fill="#8fc3b4"/><rect x="1014.0" y="420.54" width="1" height="25.6" fill="#444" fill-opacity="0.4"/><text class="l" transform="translate(892.9,438.94) scale(1.0,1)">Murcia</text><text class="v" transform="translate(1055.0,439.04) scale(0.948,1)">0,9%</text></g>
<g class="row"><rect x="876.6" y="448.71" width="137.9" height="25.6" fill="url(#lg)"/><rect x="1014.5" y="448.71" width="79.5" height="25.6" fill="#8fc3b4"/><rect x="1014.0" y="448.71" width="1" height="25.6" fill="#444" fill-opacity="0.4"/><text class="l" transform="translate(892.9,467.11) scale(1.0,1)">Madrid</text><text class="v" transform="translate(1055.0,467.21) scale(0.948,1)">0,5%</text></g>
<g class="row"><rect x="876.6" y="476.88" width="137.9" height="25.6" fill="url(#lg)"/><rect x="1014.5" y="476.88" width="79.5" height="25.6" fill="#90c4b4"/><rect x="1014.0" y="476.88" width="1" height="25.6" fill="#444" fill-opacity="0.4"/><text class="l" transform="translate(892.9,495.28) scale(1.0,1)">Andalucía</text><text class="v" transform="translate(1055.0,495.38) scale(0.948,1)">0,2%</text></g>
<g class="row"><rect x="876.6" y="505.05" width="137.9" height="25.6" fill="url(#lg)"/><rect x="1014.5" y="505.05" width="79.5" height="25.6" fill="#90c4b4"/><rect x="1014.0" y="505.05" width="1" height="25.6" fill="#444" fill-opacity="0.4"/><text class="l" transform="translate(892.9,523.45) scale(1.0,1)">C-LM</text><text class="v" transform="translate(1055.0,523.55) scale(0.948,1)">0,1%</text></g>
<g class="row"><rect x="876.6" y="533.22" width="137.9" height="25.6" fill="url(#lg)"/><rect x="1014.5" y="533.22" width="79.5" height="25.6" fill="#dfd9bc"/><rect x="1014.0" y="533.22" width="1" height="25.6" fill="#444" fill-opacity="0.4"/><text class="l" transform="translate(892.9,551.62) scale(1.0,1)">Extremadura</text><text class="v" transform="translate(1055.0,551.72) scale(0.948,1)">0,0%</text></g>
<g class="row"><rect x="876.6" y="561.39" width="137.9" height="25.6" fill="url(#lg)"/><rect x="1014.5" y="561.39" width="79.5" height="25.6" fill="#dfd9bc"/><rect x="1014.0" y="561.39" width="1" height="25.6" fill="#444" fill-opacity="0.4"/><text class="l" transform="translate(892.9,579.79) scale(1.0,1)">Ceuta</text><text class="v" transform="translate(1055.0,579.89) scale(0.948,1)">0,0%</text></g>
<g class="row"><rect x="876.6" y="589.56" width="137.9" height="25.6" fill="url(#lg)"/><rect x="1014.5" y="589.56" width="79.5" height="25.6" fill="#dfd9bc"/><rect x="1014.0" y="589.56" width="1" height="25.6" fill="#444" fill-opacity="0.4"/><text class="l" transform="translate(892.9,607.96) scale(1.0,1)">Melilla</text><text class="v" transform="translate(1055.0,608.06) scale(0.948,1)">0,0%</text></g>
</g>
</svg>
</body>
</html>
